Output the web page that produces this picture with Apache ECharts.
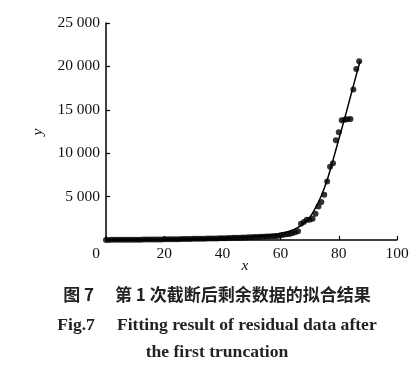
<!DOCTYPE html>
<html><head><meta charset="utf-8">
<script src="https://cdn.jsdelivr.net/npm/echarts@6/dist/echarts.min.js"></script>
<style>html,body{margin:0;padding:0;background:#fff}#c{width:419px;height:372px}</style>
</head><body><div id="c"></div>
<script>
// Residual data (x = index, y = value)
const dataX = [];
for (let i = 0; i <= 87; i++) dataX.push(i);
const dataY = [
  10, 12, 15, 18, 20, 22, 25, 28, 30, 33,
  36, 40, 43, 46, 50, 54, 58, 62, 66, 70,
  75, 80, 85, 90, 95, 100, 106, 112, 118, 124,
  130, 136, 142, 148, 155, 162, 170, 178, 186, 195,
  205, 215, 225, 236, 247, 258, 270, 282, 295, 308,
  320, 335, 350, 365, 380, 395, 410, 425, 440, 460,
  560, 600, 650, 700, 780, 900, 1000, 1870, 2070, 2330,
  2330, 2450, 3020, 3860, 4370, 5200, 6750, 8450, 8850, 11500,
  12400, 13800, 13850, 13900, 13950, 17350, 19700, 20600
];
// Fitted curve
const fitX = [0, 10, 20, 30, 40, 50, 55, 60, 63, 66, 68, 70, 72, 74, 76, 78, 80, 82, 84, 86, 87.3];
const fitY = [30, 50, 80, 130, 220, 380, 520, 750, 1000, 1450, 1950, 2600, 3700, 5100, 6900, 9200, 11600, 14000, 16500, 19000, 20600];
const xTicks = [0, 20, 40, 60, 80, 100];
const yTicks = [5000, 10000, 15000, 20000, 25000];
const xName = 'x';
const yName = 'y';
const captionCN = '图 7\u3000 第 1 次截断后剩余数据的拟合结果';
const captionEN1 = 'Fig.7\u2003 Fitting result of residual data after';
const captionEN2 = 'the first truncation';

const fmtY = v => { const s = String(v); return s.length > 3 ? s.slice(0, -3) + ' ' + s.slice(-3) : s; };
const serif = '"Liberation Serif", "Times New Roman", serif';

const chart = echarts.init(document.getElementById('c'), null, {renderer: 'canvas'});
chart.setOption({
  backgroundColor: '#fff',
  animation: false,
  grid: {left: 106, right: 22, top: 23, bottom: 132, containLabel: false},
  xAxis: {
    type: 'value', min: 0, max: 100, interval: 20,
    axisLine: {show: true, onZero: false, lineStyle: {color: '#000', width: 1.5}},
    axisTick: {show: true, inside: true, length: 4, lineStyle: {color: '#000', width: 1.2}},
    splitLine: {show: false},
    axisLabel: {
      color: '#111', fontFamily: serif, fontSize: 15.5, margin: 6,
      formatter: v => v === 0 ? '{z|0}' : String(v),
      rich: {z: {fontFamily: serif, fontSize: 15.5, color: '#111', padding: [0, 20, 0, 0]}}
    }
  },
  yAxis: {
    type: 'value', min: 0, max: 25000, interval: 5000,
    axisLine: {show: true, onZero: false, lineStyle: {color: '#000', width: 1.5}},
    axisTick: {show: true, inside: true, length: 4, lineStyle: {color: '#000', width: 1.2}},
    splitLine: {show: false},
    axisLabel: {
      color: '#111', fontFamily: serif, fontSize: 15.5, margin: 6, showMinLabel: false,
      formatter: v => v === 0 ? '' : fmtY(v)
    }
  },
  series: [
    {
      type: 'line', data: fitX.map((x, i) => [x, fitY[i]]), smooth: 0.3,
      showSymbol: false, lineStyle: {color: '#000', width: 1.5}, z: 2
    },
    {
      type: 'scatter', data: dataX.map((x, i) => [x, dataY[i]]),
      symbol: 'circle', symbolSize: 6, itemStyle: {color: '#000'}, z: 3
    }
  ],
  graphic: [
    {type: 'text', x: 245, y: 266, style: {text: xName, textAlign: 'center', textVerticalAlign: 'middle', fontFamily: serif, fontStyle: 'italic', fontSize: 15.5, fill: '#111'}},
    {type: 'text', x: 38, y: 132, rotation: Math.PI / 2, style: {text: yName, textAlign: 'center', textVerticalAlign: 'middle', fontFamily: serif, fontStyle: 'italic', fontSize: 15.5, fill: '#111'}},
    {type: 'text', x: 217, y: 295, style: {text: captionCN, textAlign: 'center', textVerticalAlign: 'middle', fontFamily: '"Noto Sans CJK SC", sans-serif', fontWeight: 'bold', fontSize: 17, fill: '#222'}},
    {type: 'text', x: 217, y: 325, style: {text: captionEN1, textAlign: 'center', textVerticalAlign: 'middle', fontFamily: serif, fontWeight: 'bold', fontSize: 17.6, fill: '#222'}},
    {type: 'text', x: 217, y: 352, style: {text: captionEN2, textAlign: 'center', textVerticalAlign: 'middle', fontFamily: serif, fontWeight: 'bold', fontSize: 17.6, fill: '#222'}}
  ]
});
</script>
</body></html>
